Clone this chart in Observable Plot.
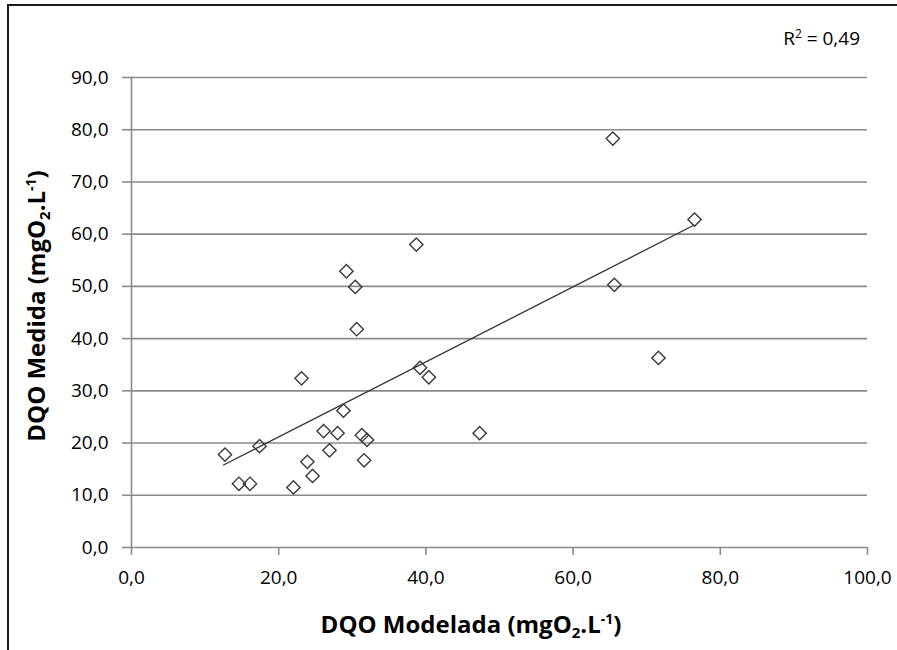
<!DOCTYPE html>
<html><head><meta charset="utf-8">
<script src="https://cdn.jsdelivr.net/npm/d3@7"></script>
<script src="https://cdn.jsdelivr.net/npm/@observablehq/plot@0.6"></script>
<style>
html,body{margin:0;padding:0;background:#fff;}
#chart svg{display:block;}
</style></head><body><div id="chart"></div>
<script>
// DQO Modelada (x) and DQO Medida (y), mgO2.L-1
const dqoModelada = [12.7, 14.6, 16.1, 17.4, 22.0, 23.1, 23.9, 24.6, 26.1, 26.9, 28.0, 28.8, 29.2, 30.4, 30.6, 31.3, 31.6, 32.0, 38.7, 39.2, 40.4, 47.3, 65.4, 76.5, 65.6, 71.6];
const dqoMedida   = [17.8, 12.2, 12.2, 19.4, 11.5, 32.4, 16.4, 13.7, 22.3, 18.6, 21.9, 26.2, 52.9, 49.9, 41.8, 21.5, 16.7, 20.6, 58.0, 34.4, 32.6, 21.9, 78.3, 62.8, 50.3, 36.3];
// linear trend line (as drawn in the chart), endpoints
const trendX = [12.5, 76.4];
const trendY = [15.8, 61.7];
const xTicks = [0, 20, 40, 60, 80, 100];
const yTicks = [0, 10, 20, 30, 40, 50, 60, 70, 80, 90];
const r2Value = "0,49";

const data = dqoModelada.map((x, i) => ({x, y: dqoMedida[i]}));
const trend = trendX.map((x, i) => ({x, y: trendY[i]}));
const fmt = d => d.toFixed(1).replace(".", ",");
const grey = "#8a8a8a";

const plot = Plot.plot({
  width: 897, height: 650,
  marginLeft: 131, marginRight: 30, marginTop: 77, marginBottom: 103,
  style: {fontFamily: "'Open Sans', sans-serif", fontSize: "19px", color: "#000", background: "#fff", overflow: "visible"},
  x: {domain: [0, 100]},
  y: {domain: [0, 90]},
  marks: [
    Plot.gridY(yTicks, {stroke: grey, strokeOpacity: 1, strokeWidth: 1.6}),
    Plot.ruleX([0], {stroke: grey, strokeWidth: 1.6}),
    Plot.axisY(yTicks, {tickFormat: fmt, tickSize: 9, tickPadding: 14, stroke: grey, strokeWidth: 1.6, fill: "#000", label: null}),
    Plot.axisX(xTicks, {tickFormat: fmt, tickSize: 8, tickPadding: 15, stroke: grey, strokeWidth: 1.6, fill: "#000", label: null}),
    Plot.line(trend, {x: "x", y: "y", stroke: "#333", strokeWidth: 1.3}),
    Plot.dot(data, {x: "x", y: "y", symbol: "diamond2", r: 6, stroke: "#3a3a3a", strokeWidth: 1.4, fill: "none"})
  ]
});
document.getElementById("chart").appendChild(plot);

const svg = d3.select(plot);
// outer frame (left and top edges visible)
svg.append("path").attr("d", "M8,650V5H897").attr("fill", "none").attr("stroke", "#1a1a1a").attr("stroke-width", 2);

function title(g, main) {
  const t = g.append("text").attr("font-family", "'Open Sans', sans-serif").attr("font-weight", "bold").attr("font-size", 24).attr("fill", "#000").attr("text-anchor", "middle");
  t.append("tspan").text(main + " (mgO");
  t.append("tspan").attr("font-size", 15).attr("dy", 5).text("2");
  t.append("tspan").attr("dy", -5).text(".L");
  t.append("tspan").attr("font-size", 14).attr("dy", -9).text("-1");
  t.append("tspan").attr("dy", 9).text(")");
  return t;
}
title(svg.append("g").attr("transform", "translate(471,633)"), "DQO Modelada");
title(svg.append("g").attr("transform", "translate(45,306) rotate(-90)"), "DQO Medida");

const r2 = svg.append("text").attr("x", 860).attr("y", 45).attr("text-anchor", "end")
  .attr("font-family", "'Open Sans', sans-serif").attr("font-size", 19).attr("fill", "#000");
r2.append("tspan").text("R");
r2.append("tspan").attr("font-size", 12).attr("dy", -7).text("2");
r2.append("tspan").attr("dy", 7).text(" = " + r2Value);
</script></body></html>
